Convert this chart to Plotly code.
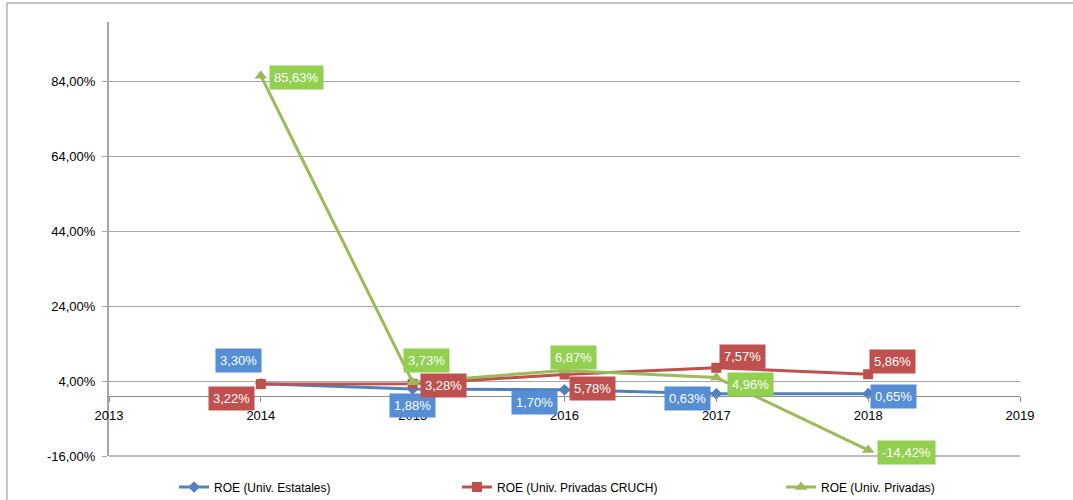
import plotly.graph_objects as go

# ROE por tipo de universidad, 2014-2018 (en %)
years = [2014, 2015, 2016, 2017, 2018]
roe_estatales = [3.30, 1.88, 1.70, 0.63, 0.65]
roe_cruch = [3.22, 3.28, 5.78, 7.57, 5.86]
roe_privadas = [85.63, 3.73, 6.87, 4.96, -14.42]

series_names = [
    "ROE (Univ. Estatales)",
    "ROE (Univ. Privadas CRUCH)",
    "ROE (Univ. Privadas)",
]

y_ticks = [-16, 4, 24, 44, 64, 84]
x_ticks = [2013, 2014, 2015, 2016, 2017, 2018, 2019]

Y_MIN, Y_MAX = -16, 100


def pct(v):
    return f"{v:.2f}%".replace(".", ",")


line_colors = ["#4F81BD", "#C0504D", "#9BBB59"]
label_colors = ["#558ED5", "#C0504D", "#92D050"]
symbols = ["diamond", "square", "triangle-up"]
marker_sizes = [9, 10, 11]
grid_color = "#A6A6A6"

# pixel offsets of each value label relative to its point
label_offsets = [
    [(-22, 23), (0, -16), (-30, -13), (-29, -5), (25, -3)],
    [(-29, -14), (31, -2), (28, -14), (26, 11), (24, 13)],
    [(36, -2), (14, 22), (9, 13), (34, -7), (38, -2)],
]

# legend positions in container fractions
legend_x = [0.1622, 0.4259, 0.7279]

fig = go.Figure()
annotations = []
all_series = [roe_estatales, roe_cruch, roe_privadas]

for i, (name, vals) in enumerate(zip(series_names, all_series)):
    fig.add_trace(go.Scatter(
        x=years, y=vals, name=name,
        mode="lines+markers",
        line=dict(color=line_colors[i], width=3),
        marker=dict(symbol=symbols[i], size=marker_sizes[i], color=line_colors[i]),
        legend="legend" if i == 0 else f"legend{i + 1}",
    ))
    for j, (yr, v) in enumerate(zip(years, vals)):
        dx, dy = label_offsets[i][j]
        annotations.append(dict(
            x=yr, y=v, xref="x", yref="y",
            text=pct(v),
            showarrow=False, xshift=dx, yshift=dy,
            bgcolor=label_colors[i], borderpad=4,
            font=dict(color="white", size=13, family="Liberation Sans"),
        ))

legend_common = dict(
    orientation="h", yref="container", yanchor="middle", y=0.026,
    xref="container", xanchor="left",
    font=dict(size=12, color="#000000", family="Liberation Sans"),
    bgcolor="rgba(0,0,0,0)", itemwidth=30,
)

x_axis_pos = (0 - Y_MIN) / (Y_MAX - Y_MIN)
bottom_grid_pos = (y_ticks[0] - Y_MIN) / (Y_MAX - Y_MIN)

fig.update_layout(
    width=1073, height=500,
    margin=dict(l=109, r=53, t=22, b=44, autoexpand=False),
    paper_bgcolor="white", plot_bgcolor="white",
    font=dict(family="Liberation Sans", size=12, color="#000000"),
    showlegend=True,
    legend=dict(x=legend_x[0], **legend_common),
    legend2=dict(x=legend_x[1], **legend_common),
    legend3=dict(x=legend_x[2], **legend_common),
    annotations=annotations,
    xaxis=dict(
        range=[2013, 2019], tickvals=x_ticks,
        showgrid=False, zeroline=False,
        showline=True, linecolor="#8C8C8C", linewidth=1,
        ticks="outside", ticklen=5, tickcolor="#8C8C8C",
        anchor="free", position=x_axis_pos,
        tickfont=dict(size=13), ticklabelstandoff=2,
    ),
    yaxis=dict(
        range=[Y_MIN, Y_MAX], tickvals=y_ticks,
        ticktext=[pct(t) for t in y_ticks],
        showgrid=True, gridcolor=grid_color, gridwidth=1,
        zeroline=False,
        showline=True, linecolor=grid_color, linewidth=2,
        ticks="outside", ticklen=5, tickcolor=grid_color,
        tickfont=dict(size=13), ticklabelstandoff=4,
    ),
    shapes=[
        # chart-area frame
        dict(
            type="rect", xref="paper", yref="paper",
            x0=-0.112, x1=1.2, y0=-0.3, y1=1.0438,
            line=dict(color="#8C8C8C", width=1), layer="below",
        ),
        # gridline at the lowest tick, on the plot's bottom edge
        dict(
            type="line", xref="paper", yref="paper",
            x0=0, x1=1, y0=bottom_grid_pos, y1=bottom_grid_pos,
            line=dict(color=grid_color, width=1.5), layer="above",
        ),
    ],
)

fig.write_html("out.html")
